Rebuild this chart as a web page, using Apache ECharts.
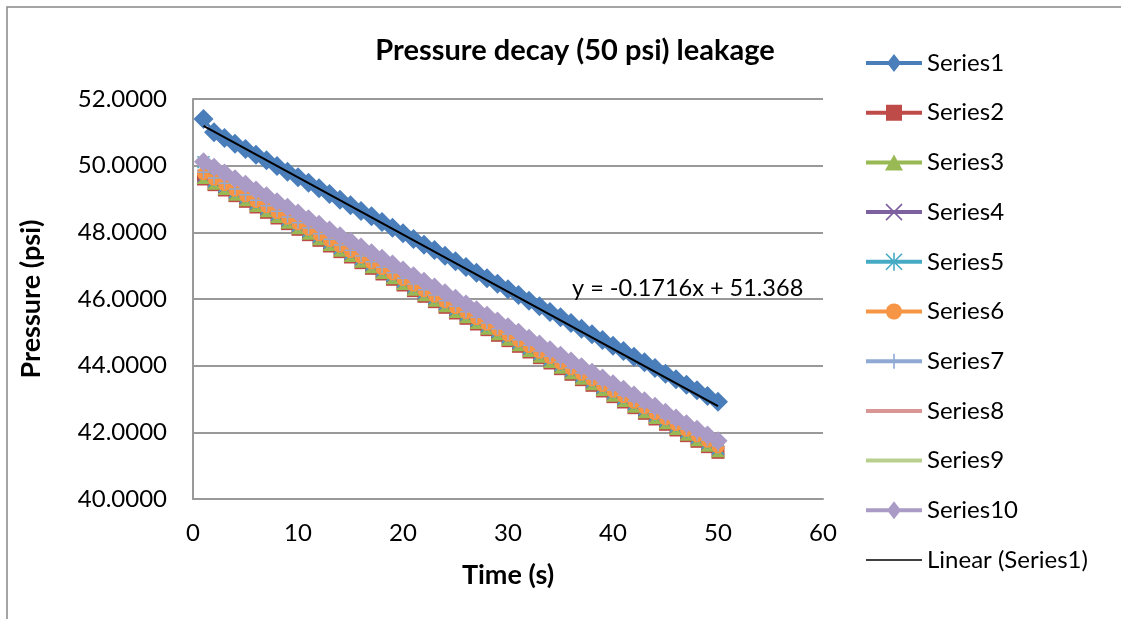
<!DOCTYPE html>
<html>
<head>
<meta charset="utf-8">
<script src="https://cdn.jsdelivr.net/npm/echarts@6/dist/echarts.min.js"></script>
<style>
html, body { margin: 0; padding: 0; background: #fff; overflow: hidden; }
#main { width: 1121px; height: 619px; }
</style>
</head>
<body>
<div id="main"></div>
<script>
var times = [1,2,3,4,5,6,7,8,9,10,11,12,13,14,15,16,17,18,19,20,21,22,23,24,25,
    26,27,28,29,30,31,32,33,34,35,36,37,38,39,40,41,42,43,44,45,46,47,48,49,50];

var series1 = [51.40,51.00,50.83,50.66,50.50,50.33,50.16,49.99,49.82,49.65,
    49.49,49.32,49.15,48.98,48.81,48.64,48.48,48.31,48.14,47.97,
    47.80,47.63,47.47,47.30,47.13,46.96,46.79,46.62,46.46,46.29,
    46.12,45.95,45.78,45.61,45.45,45.28,45.11,44.94,44.77,44.60,
    44.44,44.27,44.10,43.93,43.76,43.59,43.43,43.26,43.09,42.92];
var series2 = [49.60,49.43,49.27,49.10,48.93,48.76,48.60,48.43,48.26,48.09,
    47.93,47.76,47.59,47.42,47.26,47.09,46.92,46.75,46.59,46.42,
    46.25,46.08,45.92,45.75,45.58,45.42,45.25,45.08,44.91,44.75,
    44.58,44.41,44.24,44.08,43.91,43.74,43.58,43.41,43.24,43.07,
    42.91,42.74,42.57,42.40,42.24,42.07,41.90,41.73,41.57,41.40];
var series3 = [49.66,49.49,49.33,49.16,48.99,48.82,48.66,48.49,48.32,48.15,
    47.99,47.82,47.65,47.48,47.32,47.15,46.98,46.81,46.65,46.48,
    46.31,46.14,45.98,45.81,45.64,45.48,45.31,45.14,44.97,44.81,
    44.64,44.47,44.30,44.14,43.97,43.80,43.64,43.47,43.30,43.13,
    42.97,42.80,42.63,42.46,42.30,42.13,41.96,41.79,41.63,41.46];
var series4 = [49.70,49.53,49.37,49.20,49.03,48.86,48.70,48.53,48.36,48.19,
    48.03,47.86,47.69,47.52,47.36,47.19,47.02,46.85,46.69,46.52,
    46.35,46.18,46.02,45.85,45.68,45.52,45.35,45.18,45.01,44.85,
    44.68,44.51,44.34,44.18,44.01,43.84,43.68,43.51,43.34,43.17,
    43.01,42.84,42.67,42.50,42.34,42.17,42.00,41.83,41.67,41.50];
var series5 = [50.10,49.55,49.39,49.22,49.05,48.88,48.72,48.55,48.38,48.21,
    48.05,47.88,47.71,47.54,47.38,47.21,47.04,46.87,46.71,46.54,
    46.37,46.20,46.04,45.87,45.70,45.54,45.37,45.20,45.03,44.87,
    44.70,44.53,44.36,44.20,44.03,43.86,43.70,43.53,43.36,43.19,
    43.03,42.86,42.69,42.52,42.36,42.19,42.02,41.85,41.69,41.52];
var series6 = [49.76,49.59,49.43,49.26,49.09,48.92,48.76,48.59,48.42,48.25,
    48.09,47.92,47.75,47.58,47.42,47.25,47.08,46.91,46.75,46.58,
    46.41,46.24,46.08,45.91,45.74,45.58,45.41,45.24,45.07,44.91,
    44.74,44.57,44.40,44.24,44.07,43.90,43.74,43.57,43.40,43.23,
    43.07,42.90,42.73,42.56,42.40,42.23,42.06,41.89,41.73,41.56];
var series7 = [49.80,49.63,49.47,49.30,49.13,48.96,48.80,48.63,48.46,48.29,
    48.13,47.96,47.79,47.62,47.46,47.29,47.12,46.95,46.79,46.62,
    46.45,46.28,46.12,45.95,45.78,45.62,45.45,45.28,45.11,44.95,
    44.78,44.61,44.44,44.28,44.11,43.94,43.78,43.61,43.44,43.27,
    43.11,42.94,42.77,42.60,42.44,42.27,42.10,41.93,41.77,41.60];
var series8 = [49.68,49.51,49.35,49.18,49.01,48.84,48.68,48.51,48.34,48.17,
    48.01,47.84,47.67,47.50,47.34,47.17,47.00,46.83,46.67,46.50,
    46.33,46.16,46.00,45.83,45.66,45.50,45.33,45.16,44.99,44.83,
    44.66,44.49,44.32,44.16,43.99,43.82,43.66,43.49,43.32,43.15,
    42.99,42.82,42.65,42.48,42.32,42.15,41.98,41.81,41.65,41.48];
var series9 = [49.64,49.47,49.31,49.14,48.97,48.80,48.64,48.47,48.30,48.13,
    47.97,47.80,47.63,47.46,47.30,47.13,46.96,46.79,46.63,46.46,
    46.29,46.12,45.96,45.79,45.62,45.46,45.29,45.12,44.95,44.79,
    44.62,44.45,44.28,44.12,43.95,43.78,43.62,43.45,43.28,43.11,
    42.95,42.78,42.61,42.44,42.28,42.11,41.94,41.77,41.61,41.44];
var series10 = [50.12,49.95,49.78,49.61,49.44,49.27,49.10,48.92,48.75,48.58,
    48.41,48.24,48.07,47.90,47.73,47.56,47.39,47.22,47.05,46.87,
    46.70,46.53,46.36,46.19,46.02,45.85,45.68,45.51,45.34,45.17,
    45.00,44.82,44.65,44.48,44.31,44.14,43.97,43.80,43.63,43.46,
    43.29,43.12,42.95,42.78,42.60,42.43,42.26,42.09,41.92,41.75];

// trendline of Series1 as printed on the chart
var trendSlope = -0.1716;
var trendIntercept = 51.368;

var xTicks = [0, 10, 20, 30, 40, 50, 60];
var yTicks = [40, 42, 44, 46, 48, 50, 52];

var allSeries = [series1, series2, series3, series4, series5, series6, series7, series8, series9, series10];
var names = ['Series1', 'Series2', 'Series3', 'Series4', 'Series5', 'Series6', 'Series7', 'Series8', 'Series9', 'Series10'];
var colors = ['#4A7EBB', '#BE4B48', '#98B954', '#7D60A0', '#46AAC5', '#F69545', '#8FA9D4', '#D99694', '#B9CF8E', '#A99BC5'];

var xMark = 'path://M0,0L10,10M10,0L0,10';
var starMark = 'path://M0,0L10,10M10,0L0,10M5,0L5,10';
var plusMark = 'path://M5,0L5,10M0,5L10,5';
var symbols = ['diamond', 'rect', 'triangle', xMark, starMark, 'circle', plusMark, 'none', 'none', 'diamond'];
var sizes = [20, 13, 14, 12, 12, 13, 12, 0, 0, 19];

// legend icons: line with the marker, drawn in a 56 x 18 box
var bar = 'M0,7H56V11H0Z';
var xStrokes = 'M20.57,0.43L36.57,16.43L35.43,17.57L19.43,1.57Z' +
    'M36.57,1.57L20.57,17.57L19.43,16.43L35.43,0.43Z';
var legendIcons = [
    'path://M0,7H22.56L28,0L33.44,7H56V11H33.44L28,18L22.56,11H0Z',
    'path://M0,7H20V1H36V7H56V11H36V17H20V11H0Z',
    'path://M0,7H24.63L28,1L31.37,7H56V11H33.63L37,17H19L22.37,11H0Z',
    'path://' + bar + xStrokes,
    'path://' + bar + xStrokes + 'M27.2,0H28.8V18H27.2Z',
    'path://M0,7H20.25A8,8 0 0 1 35.75,7H56V11H35.75A8,8 0 0 1 20.25,11H0Z',
    'path://' + bar + 'M27.2,1.5H28.8V16.5H27.2Z',
    'path://' + bar,
    'path://' + bar,
    'path://M0,7H22.56L28,0L33.44,7H56V11H33.44L28,18L22.56,11H0Z'
];

var font = 'Lato';

function pairs(xs, ys) {
    var res = [];
    for (var i = 0; i < xs.length; i++) {
        res.push([xs[i], ys[i]]);
    }
    return res;
}

var seriesList = [];
var legendData = [];
for (var i = 0; i < allSeries.length; i++) {
    var isPath = symbols[i].indexOf('path://') === 0;
    seriesList.push({
        name: names[i],
        type: 'line',
        data: pairs(times, allSeries[i]),
        symbol: symbols[i],
        symbolSize: sizes[i],
        showSymbol: symbols[i] !== 'none',
        lineStyle: { color: colors[i], width: 3 },
        itemStyle: isPath ? { color: colors[i], borderColor: colors[i], borderWidth: 1.5 } : { color: colors[i] },
        emphasis: { disabled: true }
    });
    legendData.push({ name: names[i], icon: legendIcons[i], itemStyle: { color: colors[i], borderWidth: 0 } });
}

var firstT = times[0], lastT = times[times.length - 1];
seriesList.push({
    name: 'Linear (Series1)',
    type: 'line',
    z: 5,
    data: [[firstT, trendSlope * firstT + trendIntercept], [lastT, trendSlope * lastT + trendIntercept]],
    symbol: 'none',
    lineStyle: { color: '#000', width: 2 },
    itemStyle: { color: '#000' },
    emphasis: { disabled: true }
});
legendData.push({ name: 'Linear (Series1)', icon: 'path://M0,8.25H56V9.75H0Z', itemStyle: { color: '#000', borderWidth: 0 } });

var myChart = echarts.init(document.getElementById('main'));

var option = {
    animation: false,
    title: {
        text: 'Pressure decay (50 psi) leakage',
        left: 570,
        top: 31,
        textAlign: 'center',
        textStyle: { fontFamily: font, fontWeight: 'bold', fontSize: 29, color: '#000' }
    },
    legend: {
        orient: 'vertical',
        left: 866,
        top: 51,
        padding: 0,
        itemWidth: 56,
        itemHeight: 18,
        itemGap: 25.7,
        symbolKeepAspect: true,
        data: legendData,
        textStyle: { fontFamily: font, fontSize: 24, color: '#000', lineHeight: 24 }
    },
    grid: { left: 193, top: 99, width: 630, height: 400, containLabel: false },
    xAxis: {
        type: 'value',
        min: xTicks[0],
        max: xTicks[xTicks.length - 1],
        interval: 10,
        name: 'Time (s)',
        nameLocation: 'middle',
        nameGap: 63,
        nameTextStyle: { fontFamily: font, fontWeight: 'bold', fontSize: 27, color: '#000' },
        axisLine: { lineStyle: { color: '#999', width: 2 } },
        axisTick: { show: false },
        splitLine: { show: false },
        axisLabel: { fontFamily: font, fontSize: 24, color: '#000', margin: 22 }
    },
    yAxis: {
        type: 'value',
        min: yTicks[0],
        max: yTicks[yTicks.length - 1],
        interval: 2,
        name: 'Pressure (psi)',
        nameLocation: 'middle',
        nameGap: 148,
        nameTextStyle: { fontFamily: font, fontWeight: 'bold', fontSize: 27, color: '#000' },
        axisLine: { show: true, lineStyle: { color: '#999', width: 2 } },
        axisTick: { show: false },
        splitLine: { lineStyle: { color: '#999', width: 2 } },
        axisLabel: {
            fontFamily: font, fontSize: 24, color: '#000', margin: 26,
            formatter: function(v) { return v.toFixed(4); }
        }
    },
    graphic: [{
        // chart frame: only its left and top edges fall inside the picture
        type: 'polyline',
        shape: { points: [[7, 640], [7, 7], [1140, 7]] },
        style: { fill: 'none', stroke: '#888', lineWidth: 1.5 },
        silent: true
    }, {
        type: 'text',
        left: 572,
        top: 276,
        style: { text: 'y = -0.1716x + 51.368', fontFamily: font, fontSize: 23.5, fill: '#000' },
        z: 100
    }],
    series: seriesList
};

myChart.setOption(option);
</script>
</body>
</html>
